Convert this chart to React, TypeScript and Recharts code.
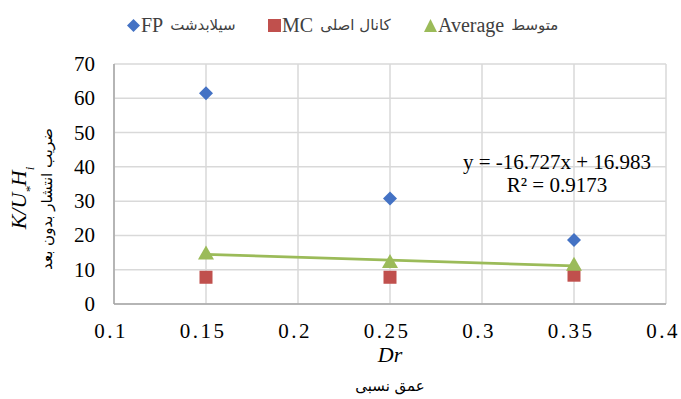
import {
  ComposedChart,
  Scatter,
  XAxis,
  YAxis,
  CartesianGrid,
} from "recharts";

const depth = [0.15, 0.25, 0.35];
const fpValues = [61.5, 30.8, 18.7];
const mcValues = [7.8, 7.8, 8.4];
const avgValues = [14.76, 12.22, 11.42];
// Excel linear trendline over the average series, read at its two ends
const trendX = [0.15, 0.35];
const trendY = [14.47, 11.13];

const xTicks = [0.1, 0.15, 0.2, 0.25, 0.3, 0.35, 0.4];
const yTicks = [0, 10, 20, 30, 40, 50, 60, 70];

const legendCodes = ["FP", "MC", "Average"];
const legendNames = ["سیلابدشت", "کانال اصلی", "متوسط"];

const BLUE = "#4472C4";
const RED = "#C0504D";
const GREEN = "#9BBB59";
const SERIF = "Liberation Serif";

const fp = depth.map((x, i) => ({ x, y: fpValues[i] }));
const mc = depth.map((x, i) => ({ x, y: mcValues[i] }));
const avg = depth.map((x, i) => ({ x, y: avgValues[i] }));
const trend = trendX.map((x, i) => ({ x, y: trendY[i] }));

interface ShapeProps {
  cx?: number;
  cy?: number;
}

function Diamond({ cx, cy }: ShapeProps) {
  if (cx == null || cy == null) return null;
  const r = 7;
  return <path d={`M${cx},${cy - r}L${cx + r},${cy}L${cx},${cy + r}L${cx - r},${cy}Z`} fill={BLUE} />;
}

function Square({ cx, cy }: ShapeProps) {
  if (cx == null || cy == null) return null;
  return <rect x={cx - 6.5} y={cy - 6.5} width={13} height={13} fill={RED} />;
}

function Triangle({ cx, cy }: ShapeProps) {
  if (cx == null || cy == null) return null;
  return <path d={`M${cx},${cy - 8}L${cx + 8},${cy + 6}L${cx - 8},${cy + 6}Z`} fill={GREEN} />;
}

function NoDot() {
  return <g />;
}

interface TickProps {
  x?: number;
  y?: number;
  payload?: { value: number };
}

function XTick({ x, y, payload }: TickProps) {
  return (
    <text x={x} y={y} dx={-3} dy={20} textAnchor="middle" fontFamily={SERIF} fontSize={21} fill="#000" letterSpacing={2.5}>
      {String(payload?.value)}
    </text>
  );
}

function YTick({ x, y, payload }: TickProps) {
  return (
    <text x={x} y={y} dy={7} textAnchor="end" fontFamily={SERIF} fontSize={21} fill="#000">
      {String(payload?.value)}
    </text>
  );
}

function LegendItem({ color, shape, code, name, left }: { color: string; shape: string; code: string; name: string; left: number }) {
  let mark;
  if (shape === "diamond") {
    mark = <path d="M6.5,0L13,6.5L6.5,13L0,6.5Z" fill={color} />;
  } else if (shape === "square") {
    mark = <rect x={0} y={0} width={13} height={13} fill={color} />;
  } else {
    mark = <path d="M6.5,0L13,13L0,13Z" fill={color} />;
  }
  return (
    <div style={{ position: "absolute", left, top: 11, display: "flex", alignItems: "center", whiteSpace: "nowrap", color: "#404040" }}>
      <svg width={13} height={13} style={{ marginRight: 1 }}>{mark}</svg>
      <span style={{ fontSize: 20, fontFamily: SERIF, lineHeight: "28px" }}>{code}</span>
      <span style={{ fontSize: 15, fontFamily: "DejaVu Sans", lineHeight: "28px", marginLeft: 7 }} dir="rtl">
        {name}
      </span>
    </div>
  );
}

export default function App() {
  return (
    <div style={{ position: "absolute", left: 0, top: 0, width: 681, height: 399, background: "#fff" }}>
      <ComposedChart
        width={681}
        height={399}
        margin={{ top: 64, right: 15, bottom: 65, left: 64 }}
        style={{ position: "absolute", left: 0, top: 0 }}
      >
        <CartesianGrid stroke="#D9D9D9" strokeWidth={1.5} />
        <XAxis
          type="number"
          dataKey="x"
          domain={[0.1, 0.4]}
          ticks={xTicks}
          interval={0}
          allowDataOverflow
          tickLine={false}
          tickSize={0}
          tickMargin={14}
          axisLine={{ stroke: "#A6A6A6", strokeWidth: 1.5 }}
          tick={<XTick />}
          height={30}
        />
        <YAxis
          type="number"
          dataKey="y"
          domain={[0, 70]}
          ticks={yTicks}
          interval={0}
          tickLine={false}
          tickSize={0}
          tickMargin={19}
          axisLine={{ stroke: "#A6A6A6", strokeWidth: 1.5 }}
          tick={<YTick />}
          width={50}
        />
        <Scatter data={trend} line={{ stroke: GREEN, strokeWidth: 2.8 }} shape={<NoDot />} isAnimationActive={false} />
        <Scatter data={mc} shape={<Square />} isAnimationActive={false} />
        <Scatter data={avg} shape={<Triangle />} isAnimationActive={false} />
        <Scatter data={fp} shape={<Diamond />} isAnimationActive={false} />
      </ComposedChart>
      <LegendItem color={BLUE} shape="diamond" code={legendCodes[0]} name={legendNames[0]} left={127} />
      <LegendItem color={RED} shape="square" code={legendCodes[1]} name={legendNames[1]} left={268} />
      <LegendItem color={GREEN} shape="triangle" code={legendCodes[2]} name={legendNames[2]} left={424} />
      <svg width={681} height={399} style={{ position: "absolute", left: 0, top: 0, pointerEvents: "none" }}>
        <text x={557} y={169} textAnchor="middle" fontFamily={SERIF} fontSize={21} fill="#000">
          y = -16.727x + 16.983
        </text>
        <text x={557} y={192} textAnchor="middle" fontFamily={SERIF} fontSize={21} fill="#000">
          R² = 0.9173
        </text>
        <text
          transform="translate(26,198) rotate(-90)"
          textAnchor="middle"
          fontFamily={SERIF}
          fontSize={22}
          fontStyle="italic"
          fill="#000"
        >
          K/U
          <tspan baselineShift="sub" fontSize={13}>*</tspan>
          H
          <tspan baselineShift="sub" fontSize={13}>i</tspan>
        </text>
        <text
          transform="translate(52,199) rotate(-90)"
          textAnchor="middle"
          fontFamily="DejaVu Sans"
          fontSize={15}
          fill="#000"
        >
          ضریب انتشار بدون بعد
        </text>
        <text x={390} y={362} textAnchor="middle" fontFamily={SERIF} fontSize={22} fontStyle="italic" fill="#000">
          Dr
        </text>
        <text x={390} y={391} textAnchor="middle" fontFamily="DejaVu Sans" fontSize={15} fill="#000">
          عمق نسبی
        </text>
      </svg>
    </div>
  );
}
